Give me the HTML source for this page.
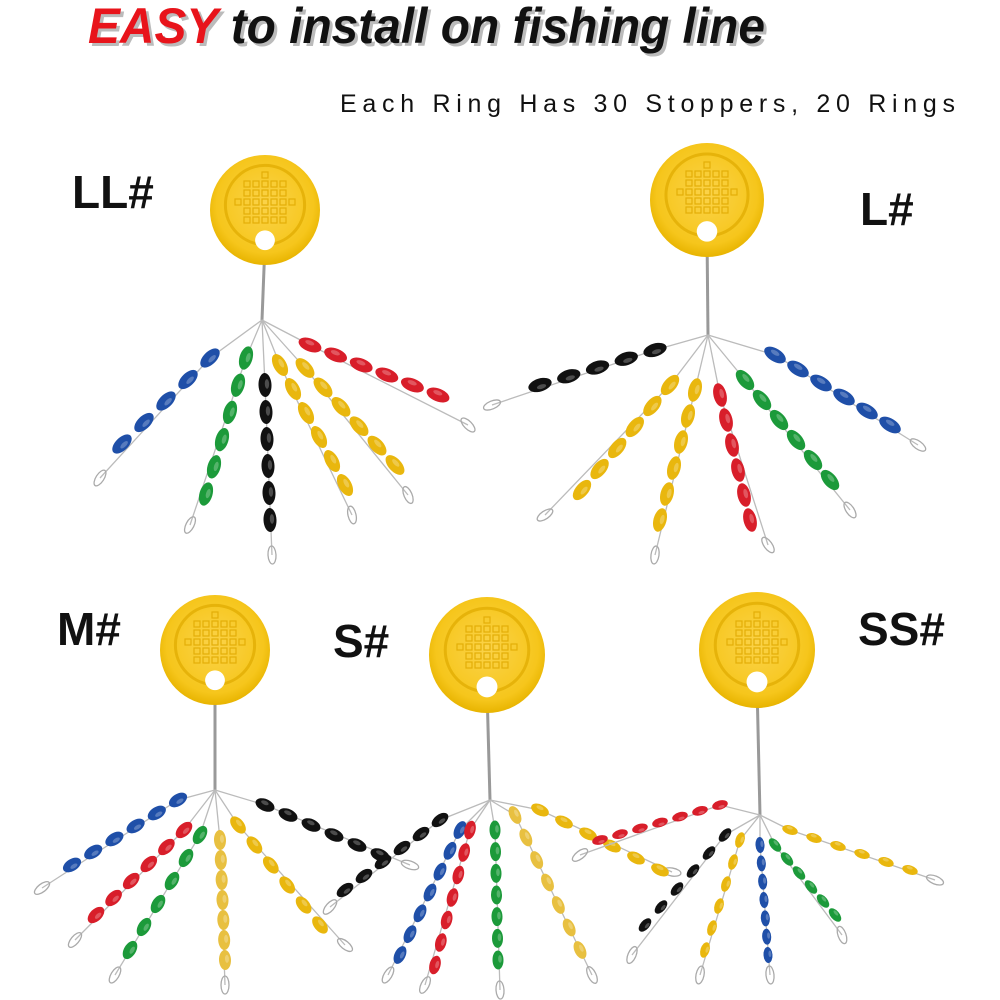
<!DOCTYPE html>
<html><head><meta charset="utf-8"><style>
html,body{margin:0;padding:0;background:#fff;}
svg{display:block;}
</style></head><body>
<svg id="s" width="1000" height="1000" viewBox="0 0 1000 1000" xmlns="http://www.w3.org/2000/svg">
<defs>
<radialGradient id="ring" cx="50%" cy="45%" r="55%">
<stop offset="0" stop-color="#fbd34a"/><stop offset="0.8" stop-color="#f6c61c"/><stop offset="1" stop-color="#e8b400"/>
</radialGradient>
</defs>
<g font-family="Liberation Sans, sans-serif" font-weight="bold" font-style="italic" font-size="50">
<text x="91" y="46" fill="#bbb" textLength="677" lengthAdjust="spacingAndGlyphs"><tspan>EASY</tspan> to install on fishing line</text>
<text x="88" y="43" textLength="677" lengthAdjust="spacingAndGlyphs"><tspan fill="#e8141b">EASY</tspan><tspan fill="#111"> to install on fishing line</tspan></text>
</g>
<text x="340" y="112" font-family="Liberation Sans, sans-serif" font-size="25" fill="#111" textLength="615" lengthAdjust="spacing">Each Ring Has 30 Stoppers, 20 Rings</text>
<g font-family="Liberation Sans, sans-serif" font-weight="bold" font-size="46" fill="#111">
<text x="72" y="208">LL#</text>
<text x="860" y="225">L#</text>
<text x="57" y="645">M#</text>
<text x="333" y="657">S#</text>
<text x="858" y="645">SS#</text>
</g>
<g id="g"></g>
</svg>
<script>
var g=document.getElementById('g'),NS='http://www.w3.org/2000/svg';
function el(t,a){var e=document.createElementNS(NS,t);for(var k in a)e.setAttribute(k,a[k]);g.appendChild(e);return e;}
var C={b:'#1f4fa8',g:'#1c9a3a',k:'#111',y:'#e9b70e',r:'#d81e2a',t:'#e8c040'};
function ring(cx,cy,r){
 el('circle',{cx:cx,cy:cy,r:r,fill:'url(#ring)'});
 el('circle',{cx:cx,cy:cy-5,r:r*0.72,fill:'none',stroke:'#e6b30a','stroke-width':3});
 for(var i=-3;i<=3;i++)for(var j=-3;j<=2;j++){if(i*i+j*j<10)el('rect',{x:cx+i*9-3,y:cy-8+j*9-3,width:6,height:6,fill:'none',stroke:'#e3ae08','stroke-width':1.2});}
 el('circle',{cx:cx,cy:cy+r*0.55,r:r*0.18,fill:'#fff'});
}
function wire(x1,y1,x2,y2){el('path',{d:'M'+x1+' '+y1+' L'+x2+' '+y2,stroke:'#999','stroke-width':3,fill:'none'});}
function strand(gx,gy,x1,y1,x2,y2,ex,ey,c,n,w,h){
 el('path',{d:'M'+gx+' '+gy+' L'+x1+' '+y1+' L'+ex+' '+ey,stroke:'#bbb','stroke-width':1.3,fill:'none'});
 var a=Math.atan2(ey-y2,ex-x2);
 el('ellipse',{cx:ex,cy:ey,rx:9,ry:4,transform:'rotate('+(a*180/Math.PI)+' '+ex+' '+ey+')',fill:'none',stroke:'#aaa','stroke-width':1.3});
 var ang=Math.atan2(y2-y1,x2-x1)*180/Math.PI;
 for(var i=0;i<n;i++){var t=n==1?0:i/(n-1),x=x1+(x2-x1)*t,y=y1+(y2-y1)*t;
  el('ellipse',{cx:x,cy:y,rx:h/2,ry:w/2,transform:'rotate('+ang+' '+x+' '+y+')',fill:C[c]});
  el('ellipse',{cx:x-1,cy:y-2,rx:h/5,ry:w/6,transform:'rotate('+ang+' '+x+' '+y+')',fill:'#fff',opacity:0.25});}
}
function group(cx,cy,r,gx,gy,list,w,h){
 wire(cx,cy+r*0.6,gx,gy);
 list.forEach(function(s){strand(gx,gy,s[0],s[1],s[2],s[3],s[4],s[5],s[6],s[7]||6,w,h);});
 ring(cx,cy,r);
}
group(265,210,55,262,320,[
 [210,358,122,444,100,478,'b',5],[246,358,206,494,190,525,'g',6],[265,385,270,520,272,555,'k',6],
 [280,365,345,485,352,515,'y',6],[305,368,395,465,408,495,'y',6],[310,345,438,395,468,425,'r',6]],13,24);
group(707,200,57,708,335,[
 [655,350,540,385,492,405,'k',5],[670,385,582,490,545,515,'y',6],[695,390,660,520,655,555,'y',6],
 [720,395,750,520,768,545,'r',6],[745,380,830,480,850,510,'g',6],[775,355,890,425,918,445,'b',6]],13,24);
group(215,650,55,215,790,[
 [178,800,72,865,42,888,'b',6],[184,830,96,915,75,940,'r',6],[200,835,130,950,115,975,'g',6],
 [220,840,225,960,225,985,'t',7],[238,825,320,925,345,945,'y',6],[265,805,380,855,410,865,'k',6]],12,20);
group(487,655,58,490,800,[
 [440,820,345,890,330,907,'k',6],[460,830,400,955,388,975,'b',7],[470,830,435,965,425,985,'r',7],
 [495,830,498,960,500,990,'g',7],[515,815,580,950,592,975,'t',7],[540,810,660,870,672,872,'y',6]],11,19);
group(757,650,58,760,815,[
 [720,805,600,840,580,855,'r',7],[725,835,645,925,632,955,'k',6],[740,840,705,950,700,975,'y',6],
 [760,845,768,955,770,975,'b',7],[775,845,835,915,842,935,'g',6],[790,830,910,870,935,880,'y',6]],9,16);
</script>
</body></html>
